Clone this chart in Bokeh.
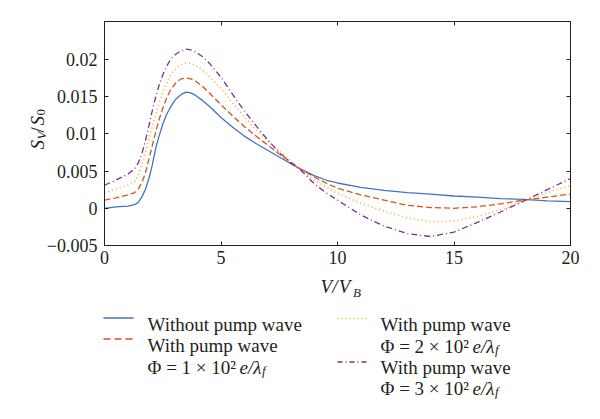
import math
from bokeh.plotting import figure
from bokeh.models import Range1d, FixedTicker, LinearAxis
from bokeh.layouts import column, row
from bokeh.embed import file_html
from bokeh.resources import INLINE
from bokeh.core.properties import value

# ---- data ----
v_ratio = [0, 0.5, 1.0, 1.3, 1.45, 1.6, 1.75, 1.9, 2.05, 2.2, 2.35, 2.5, 2.65, 2.8, 2.95,
           3.1, 3.3, 3.5, 3.7, 3.9, 4.2, 4.5, 5.0, 5.5, 6.0, 6.5, 7.0, 7.5, 8.0, 8.4,
           9, 9.5, 10, 11, 12, 13, 14, 15, 16, 17, 18, 19, 20]
s_without = [0.0, 0.0002, 0.0003, 0.0005, 0.0008, 0.0015, 0.0025, 0.0039, 0.0058, 0.0081,
             0.0098, 0.0113, 0.0125, 0.0134, 0.0142, 0.0148, 0.0153, 0.0156, 0.0155, 0.0152,
             0.0145, 0.0137, 0.0122, 0.0109, 0.0097, 0.0087, 0.0078, 0.0069, 0.0060, 0.0053,
             0.0044, 0.0038, 0.0034, 0.0028, 0.0024, 0.0021, 0.0019, 0.00165, 0.0015, 0.0013,
             0.0012, 0.0010, 0.0009]
s_phi1 = [0.0011, 0.0014, 0.0018, 0.0021, 0.0026, 0.0034, 0.0047, 0.0065, 0.0084, 0.0103,
          0.0120, 0.0134, 0.0147, 0.0157, 0.0164, 0.0170, 0.0174, 0.0175, 0.0174, 0.0171,
          0.0164, 0.0155, 0.0139, 0.0124, 0.0110, 0.0097, 0.0085, 0.0073, 0.0062, 0.0053,
          0.0042, 0.0034, 0.0027, 0.0018, 0.0011, 0.0004, 0.0001, 0.0, 0.0002, 0.0006,
          0.0011, 0.0015, 0.0019]
s_phi2 = [0.0021, 0.0026, 0.0031, 0.0036, 0.0045, 0.0058, 0.0074, 0.0092, 0.0111, 0.0127,
          0.0142, 0.0155, 0.0167, 0.0177, 0.0184, 0.0189, 0.0193, 0.0195, 0.0195, 0.0192,
          0.0186, 0.0177, 0.0161, 0.0141, 0.0123, 0.0106, 0.0091, 0.0077, 0.0063, 0.0053,
          0.0038, 0.0029, 0.0020, 0.0007, -0.0004, -0.0013, -0.0018, -0.0017, -0.0011,
          -0.0002, 0.0010, 0.0021, 0.0031]
s_phi3 = [0.0031, 0.0038, 0.0046, 0.0053, 0.0061, 0.0073, 0.0090, 0.0110, 0.0131, 0.0150,
          0.0166, 0.0179, 0.0190, 0.0198, 0.0204, 0.0208, 0.0212, 0.0214, 0.0213, 0.0210,
          0.0204, 0.0195, 0.0176, 0.0153, 0.0131, 0.0111, 0.0092, 0.0075, 0.0061, 0.0052,
          0.0033, 0.0021, 0.0011, -0.0009, -0.0024, -0.0034, -0.0038, -0.0032, -0.0019,
          -0.0005, 0.0010, 0.0025, 0.0040]

x_ticks = [0, 5, 10, 15, 20]
x_tick_labels = ["0", "5", "10", "15", "20"]
y_ticks = [-0.005, 0, 0.005, 0.01, 0.015, 0.02]
y_tick_labels = ["\u22120.005", "0", "0.005", "0.01", "0.015", "0.02"]

legend_titles = ["Without pump wave", "With pump wave", "With pump wave", "With pump wave"]
legend_phi = ["\u03a6 = 1 \u00d7 10\u00b2", "\u03a6 = 2 \u00d7 10\u00b2", "\u03a6 = 3 \u00d7 10\u00b2"]

SERIF = "'Liberation Serif', 'Times New Roman', serif"
INK = "#231f20"
C_BLUE, C_ORANGE, C_YELLOW, C_PURPLE = "#4472c4", "#d95319", "#edb120", "#7e2f8e"
DASH1, DOT, DASHDOT = "6 3", "1 3", "6 3 1 3"
lw = 1.3

# ---- y-axis title panel (coordinates in page pixels) ----
YLW = 50
OVERLAP = 7
yl = figure(width=YLW, height=272, x_range=Range1d(0, YLW), y_range=Range1d(272, 0),
            output_backend="svg", toolbar_location=None, min_border=0,
            x_axis_type=None, y_axis_type=None, frame_align=False)
yl.grid.visible = False
yl.outline_line_color = None
base = dict(text_font=value(SERIF), text_color=INK, text_baseline="alphabetic",
            text_align="left", angle=math.pi / 2)
yl.text(x=[36.7, 36.7], y=[149, 125], text=["S", "S"], text_font_size="19px",
        text_font_style="italic", **base)
yl.text(x=[36.7], y=[132], text=["/"], text_font_size="19px", **base)
yl.text(x=[40.5], y=[139], text=["V"], text_font_size="13px", text_font_style="italic", **base)
yl.text(x=[40.5], y=[115], text=["0"], text_font_size="13px", **base)

# ---- main plot (slightly overlapping the title panel; its border is transparent) ----
p = figure(width=592 - YLW + OVERLAP, height=272, x_range=Range1d(0, 20),
           y_range=Range1d(-0.005, 0.0251),
           output_backend="svg", toolbar_location=None, frame_align=False,
           margin=(0, 0, 0, -OVERLAP),
           min_border_left=103 - YLW + OVERLAP, min_border_right=22, min_border_top=21,
           min_border_bottom=27)
p.grid.visible = False
p.outline_line_color = INK
p.outline_line_width = 1
p.border_fill_color = None
p.background_fill_color = "white"

for ax, ticks, labels in ((p.xaxis[0], x_ticks, x_tick_labels), (p.yaxis[0], y_ticks, y_tick_labels)):
    ax.ticker = FixedTicker(ticks=ticks)
    ax.major_label_overrides = dict(zip(ticks, labels))
    ax.major_label_text_font = SERIF
    ax.major_label_text_font_size = "18px"
    ax.major_label_text_color = INK
    ax.major_tick_in = 4
    ax.major_tick_out = 0
    ax.minor_tick_line_color = None
    ax.axis_line_color = INK
    ax.major_tick_line_color = INK
p.xaxis[0].major_label_standoff = 5
p.yaxis[0].major_label_standoff = 7

for ticks, side in ((x_ticks, "above"), (y_ticks, "right")):
    p.add_layout(LinearAxis(ticker=FixedTicker(ticks=ticks), major_label_text_font_size="0px",
                            major_label_text_color=None, major_label_standoff=0,
                            major_tick_in=4, major_tick_out=0, minor_tick_line_color=None,
                            axis_line_color=INK, major_tick_line_color=INK), side)

p.line(v_ratio, s_without, line_color=C_BLUE, line_width=lw)
p.line(v_ratio, s_phi1, line_color=C_ORANGE, line_width=lw, line_dash=DASH1)
p.line(v_ratio, s_phi2, line_color=C_YELLOW, line_width=lw + 0.3, line_dash=DOT)
p.line(v_ratio, s_phi3, line_color=C_PURPLE, line_width=lw, line_dash=DASHDOT)

# ---- x title + legend panel (coordinates in page pixels) ----
lg = figure(width=592, height=139, x_range=Range1d(0, 592), y_range=Range1d(411, 272),
            output_backend="svg", toolbar_location=None, min_border=0,
            x_axis_type=None, y_axis_type=None, frame_align=False)
lg.grid.visible = False
lg.outline_line_color = None

tkw = dict(text_font=value(SERIF), text_font_size="19px", text_color=INK,
           text_baseline="alphabetic", text_align="left")
ikw = dict(tkw, text_font_style="italic")
skw = dict(ikw, text_font_size="13px")

# x-axis title V/V_B
lg.text(x=[320, 338.3], y=[286.3, 286.3], text=["V", "V"], **ikw)
lg.text(x=[331.7], y=[286.3], text=["/"], **ikw)
lg.text(x=[352.5], y=[291.5], text=["B"], **skw)

lg.line([103, 133], [317.5, 317.5], line_color=C_BLUE, line_width=lw)
lg.line([103, 133], [338.5, 338.5], line_color=C_ORANGE, line_width=lw, line_dash="7 4")
lg.line([337, 367], [318, 318], line_color=C_YELLOW, line_width=lw + 0.3, line_dash=DOT)
lg.line([337, 367], [361.5, 361.5], line_color=C_PURPLE, line_width=lw, line_dash="5 3 1 3")

lg.text(x=[147, 147, 380, 380], y=[323.5, 344.5, 323.5, 366.5], text=legend_titles, **tkw)
lg.text(x=[147, 380, 380], y=[366.5, 345.5, 387.5], text=legend_phi, **tkw)
lg.text(x=[239, 472, 472], y=[366.5, 345.5, 387.5], text=["e/\u03bb"] * 3, **ikw)
lg.text(x=[261.5, 494.5, 494.5], y=[370, 349, 391], text=["f"] * 3, **skw)

layout = column(row(yl, p), lg)
open("out.html", "w").write(file_html(layout, INLINE))
